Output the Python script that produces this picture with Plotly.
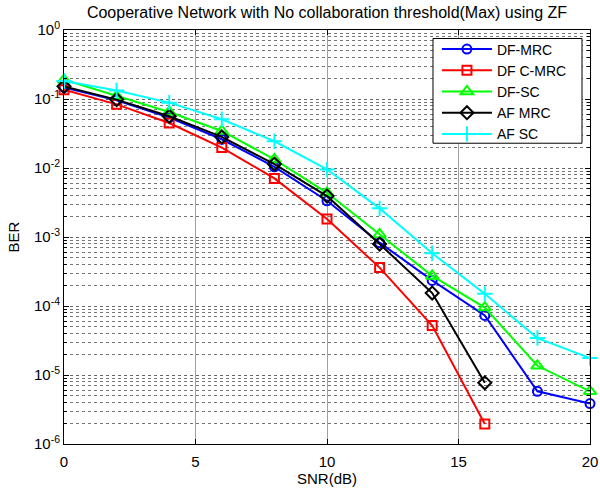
import plotly.graph_objects as go

snr_long = [0, 2, 4, 6, 8, 10, 12, 14, 16, 18, 20]
snr_short = [0, 2, 4, 6, 8, 10, 12, 14, 16]

df_mrc = [0.147, 0.0957, 0.0538, 0.0261, 0.0104, 0.00335, 0.000828, 0.000235, 7.3e-5, 5.8e-6, 3.85e-6]
df_cmrc = [0.1366, 0.0837, 0.0449, 0.0198, 0.00706, 0.00182, 0.00036, 5.2e-5, 1.95e-6]
df_sc = [0.19, 0.110, 0.0648, 0.0344, 0.0133, 0.00437, 0.00109, 0.000273, 9.5e-5, 1.36e-5, 5.8e-6]
af_mrc = [0.1525, 0.098, 0.0562, 0.0282, 0.0114, 0.00392, 0.000792, 0.000154, 7.7e-6]
af_sc = [0.182, 0.133, 0.0886, 0.0508, 0.0244, 0.00953, 0.0026, 0.000581, 0.00015, 3.43e-5, 1.76e-5]

y_tick_vals = [1e-6, 1e-5, 1e-4, 1e-3, 1e-2, 1e-1, 1]
y_tick_text = ["10<sup>-6</sup>", "10<sup>-5</sup>", "10<sup>-4</sup>", "10<sup>-3</sup>",
               "10<sup>-2</sup>", "10<sup>-1</sup>", "10<sup>0</sup>"]

series = [
    ("DF-MRC", snr_long, df_mrc, "#0000FF", "circle-open", 9),
    ("DF C-MRC", snr_short, df_cmrc, "#FF0000", "square-open", 9),
    ("DF-SC", snr_long, df_sc, "#00FF00", "triangle-up-open", 11),
    ("AF MRC", snr_short, af_mrc, "#000000", "diamond-open", 10),
    ("AF SC", snr_long, af_sc, "#00FFFF", "cross-thin-open", 11),
]

fig = go.Figure()
for name, x, y, color, sym, sz in series:
    fig.add_trace(go.Scatter(
        x=x, y=y, name=name, mode="lines+markers", cliponaxis=False,
        line=dict(color=color, width=2),
        marker=dict(symbol=sym, size=sz, color=color, line=dict(color=color, width=2)),
    ))

# legend frame (drawn as a box behind the legend entries)
fig.add_shape(type="rect", xref="paper", yref="paper",
              x0=0.7015, x1=0.9848, y0=0.7265, y1=0.9795,
              fillcolor="white", line=dict(color="black", width=1), layer="above")

font = "Liberation Sans, Arial, sans-serif"
fig.update_layout(
    width=600, height=491,
    margin=dict(l=64, r=10, t=30, b=47),
    paper_bgcolor="white", plot_bgcolor="white",
    font=dict(family=font, size=14, color="black"),
    title=dict(text="Cooperative Network with No collaboration threshold(Max) using ZF",
               x=0.545, xanchor="center", y=0.975, yanchor="middle",
               font=dict(size=16, color="black")),
    showlegend=True,
    legend=dict(x=0.709, xanchor="left", y=0.9916, yanchor="top",
                bgcolor="rgba(0,0,0,0)", borderwidth=0,
                font=dict(size=14), itemwidth=50, tracegroupgap=0),
)
fig.update_xaxes(
    range=[0, 20], dtick=5, tick0=0, automargin=False,
    title=dict(text="SNR(dB)", standoff=4, font=dict(size=15)),
    showline=True, linecolor="black", linewidth=1, mirror="ticks",
    ticks="inside", ticklen=5, tickcolor="black", ticklabelstandoff=4,
    showgrid=True, gridcolor="#a0a0a0", gridwidth=1,
    zeroline=False, tickfont=dict(size=15),
)
fig.update_yaxes(
    type="log", range=[-6, 0], automargin=False,
    tickmode="array", tickvals=y_tick_vals, ticktext=y_tick_text,
    title=dict(text="BER", standoff=10, font=dict(size=15)),
    showline=True, linecolor="black", linewidth=1, mirror="ticks",
    ticks="inside", ticklen=5, tickcolor="black",
    showgrid=True, gridcolor="#666666", griddash="dot", gridwidth=1,
    minor=dict(dtick="D1", showgrid=True, gridcolor="#777777", griddash="dot",
               ticks="inside", ticklen=3, tickcolor="black"),
    zeroline=False, tickfont=dict(size=15),
)

fig.write_html("out.html")
